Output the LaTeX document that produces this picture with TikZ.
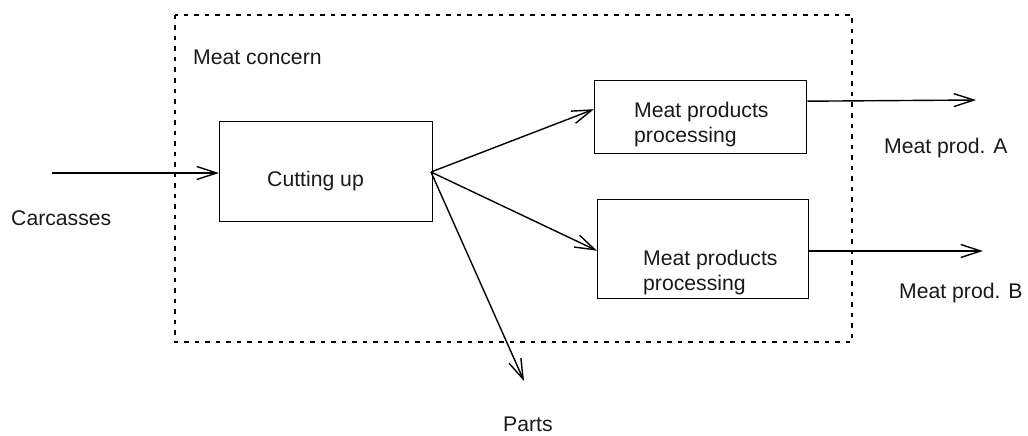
\documentclass[tikz,border=0pt]{standalone}
\usepackage{fontspec}
\setmainfont{Liberation Sans}
\usetikzlibrary{arrows.meta}
\begin{document}
\begin{tikzpicture}[x=1pt,y=-1pt,
  every node/.style={font=\fontsize{21.2}{24.5}\selectfont, text=black!90},
  procbox/.style={draw, line width=1.4pt, inner sep=0pt, anchor=north west},
  lbl/.style={anchor=base west, inner sep=0pt, align=left},
  flow/.style={line width=1.4pt, -{Straight Barb[length=20pt,width=13pt,line width=1.4pt]}},
  boundary/.style={line width=2.4pt, dash pattern=on 4.5pt off 6pt}]
  \useasboundingbox (0,0) rectangle (1028,436);

  % system boundary
  \draw[boundary] (175,15) rectangle (852,342);
  \node[lbl] (concern) at (193,64) {Meat concern};

  % process boxes
  \node[procbox, minimum width=213pt, minimum height=100pt] (cut) at (219,121) {};
  \node[procbox, minimum width=212pt, minimum height=73pt] (pa) at (594,80) {};
  \node[procbox, minimum width=211pt, minimum height=99pt] (pb) at (597,199) {};

  % box captions (base anchor sits on the last line)
  \node[lbl] (cuttxt) at (267,186) {Cutting up};
  \node[lbl] (patxt) at (634,142) {Meat products\\processing};
  \node[lbl] (pbtxt) at (643,290) {Meat products\\processing};

  % flow labels
  \node[lbl] (carc) at (11,225) {Carcasses};
  \node[lbl] (outa) at (884,153) {Meat prod. A};
  \node[lbl] (outb) at (899,298) {Meat prod. B};
  \node[lbl] (parts) at (503,431) {Parts};

  % flows
  \coordinate (src) at (52,173);
  \coordinate (split) at (431,172);
  \coordinate (paend) at (976,100);
  \coordinate (pbend) at (983,251);
  \coordinate (partsend) at (524,381);

  \draw[flow] (src) -- (cut.west |- src);
  \draw[flow] (split) -- ([yshift=8pt]pa.west);
  \draw[flow] (split) -- ([yshift=-1.5pt]pb.west);
  \draw[flow] (split) -- (partsend);
  \draw[flow] ([yshift=16pt]pa.east) -- (paend);
  \draw[flow] (pb.east |- pbend) -- (pbend);
\end{tikzpicture}
\end{document}
